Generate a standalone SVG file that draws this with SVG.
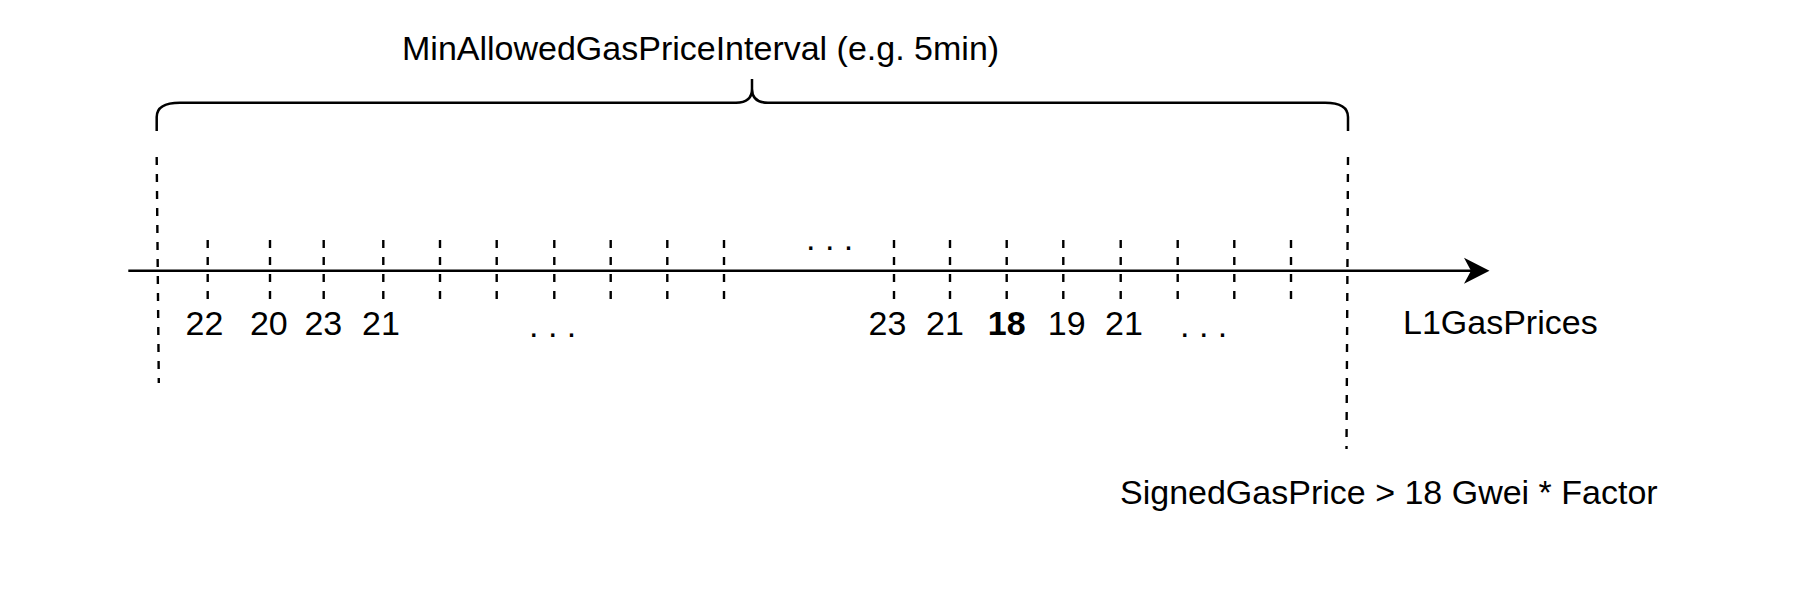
<svg xmlns="http://www.w3.org/2000/svg" width="1802" height="598" viewBox="0 0 1802 598">
<style>
text{font-family:"Liberation Sans",Arial,Helvetica,sans-serif;font-size:34px;fill:#000}
.num{text-anchor:middle}
.tick{stroke:#000;stroke-width:2.4;stroke-dasharray:8 9;fill:none}
.big{stroke:#000;stroke-width:2.4;stroke-dasharray:8 9;fill:none}
.solid{stroke:#000;stroke-width:2.5;fill:none}
</style>
<rect x="0" y="0" width="1802" height="598" fill="#fff"/>
<g id="title">
<text x="402" y="59.5">MinAllowedGasPriceInterval (e.g. 5min)</text>
</g>
<g id="brace">
<path class="solid" d="M156.7,131 L156.7,117 Q156.7,102.7 180,102.7 L736,102.7 Q752,102.7 752,89 L752,79 M752,89 Q752,102.7 768,102.7 L1325,102.7 Q1348,102.7 1348,117 L1348,131"/>
</g>
<g id="connectors">
<line class="solid" x1="128.3" y1="270.7" x2="1472" y2="270.7"/>
<path d="M1489.5,270.7 L1464,257.7 L1471,270.7 L1464,283.7 Z" fill="#000"/>
<line class="big" x1="156.7" y1="157" x2="158.8" y2="383"/>
<line class="big" x1="1348" y1="157" x2="1346.5" y2="449"/>
</g>
<g id="ticks">
<line class="tick" x1="207.7" y1="240" x2="207.7" y2="299"/>
<line class="tick" x1="270" y1="240" x2="270" y2="299"/>
<line class="tick" x1="323.7" y1="240" x2="323.7" y2="299"/>
<line class="tick" x1="383.3" y1="240" x2="383.3" y2="299"/>
<line class="tick" x1="440" y1="240" x2="440" y2="299"/>
<line class="tick" x1="496.7" y1="240" x2="496.7" y2="299"/>
<line class="tick" x1="554.3" y1="240" x2="554.3" y2="299"/>
<line class="tick" x1="610.7" y1="240" x2="610.7" y2="299"/>
<line class="tick" x1="667.3" y1="240" x2="667.3" y2="299"/>
<line class="tick" x1="724" y1="240" x2="724" y2="299"/>
<line class="tick" x1="894" y1="240" x2="894" y2="299"/>
<line class="tick" x1="950" y1="240" x2="950" y2="299"/>
<line class="tick" x1="1006.7" y1="240" x2="1006.7" y2="299"/>
<line class="tick" x1="1063.3" y1="240" x2="1063.3" y2="299"/>
<line class="tick" x1="1120.7" y1="240" x2="1120.7" y2="299"/>
<line class="tick" x1="1177.7" y1="240" x2="1177.7" y2="299"/>
<line class="tick" x1="1234.3" y1="240" x2="1234.3" y2="299"/>
<line class="tick" x1="1291" y1="240" x2="1291" y2="299"/>
</g>
<g id="dots-top">
<text x="806" y="250">. . .</text>
</g>
<g id="prices">
<text class="num" x="204.5" y="335">22</text>
<text class="num" x="268.8" y="335">20</text>
<text class="num" x="323.3" y="335">23</text>
<text class="num" x="381" y="335">21</text>
<text x="529" y="337">. . .</text>
<text class="num" x="887.5" y="335">23</text>
<text class="num" x="945" y="335">21</text>
<text class="num" x="1006.7" y="335" font-weight="bold">18</text>
<text class="num" x="1066.7" y="335">19</text>
<text class="num" x="1124" y="335">21</text>
<text x="1180" y="337">. . .</text>
</g>
<g id="axis-label">
<text x="1403" y="334">L1GasPrices</text>
</g>
<g id="condition">
<text x="1120" y="504">SignedGasPrice &gt; 18 Gwei * Factor</text>
</g>
</svg>
